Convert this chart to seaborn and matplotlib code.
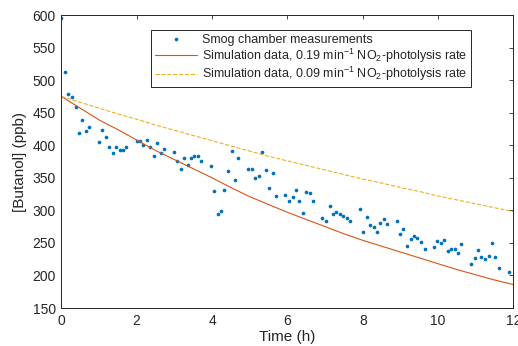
import pandas as pd
import matplotlib
matplotlib.use("Agg")
import matplotlib.pyplot as plt
import seaborn as sns

meas_time = [0.00, 0.10, 0.18, 0.28, 0.38, 0.46, 0.56, 0.65, 0.73,
             0.99, 1.09, 1.18, 1.27, 1.36, 1.45, 1.55, 1.64, 1.72,
             2.00, 2.09, 2.18, 2.27, 2.36, 2.45, 2.55, 2.64, 2.72,
             2.99, 3.06, 3.17, 3.25, 3.35, 3.44, 3.53, 3.62, 3.71,
             3.97, 4.06, 4.16, 4.24, 4.33, 4.43, 4.52, 4.62, 4.70,
             4.96, 5.06, 5.15, 5.24, 5.32, 5.42, 5.52, 5.61, 5.69,
             5.94, 6.04, 6.14, 6.23, 6.31, 6.41, 6.50, 6.59, 6.68,
             6.93, 7.03, 7.12, 7.21, 7.30, 7.39, 7.48, 7.58, 7.67,
             7.92, 8.01, 8.10, 8.20, 8.29, 8.37, 8.47, 8.56, 8.65,
             8.90, 8.99, 9.08, 9.18, 9.27, 9.36, 9.45, 9.54, 9.64,
             9.89, 9.98, 10.07, 10.16, 10.26, 10.35, 10.44, 10.53, 10.62,
             10.88, 10.97, 11.06, 11.15, 11.25, 11.34, 11.42, 11.52, 11.61,
             11.87]
meas_ppb = [596, 513, 478, 474, 458, 419, 438, 422, 428,
            405, 423, 413, 397, 388, 398, 392, 392, 398,
            407, 407, 401, 408, 398, 384, 403, 388, 394,
            390, 376, 364, 381, 370, 380, 383, 383, 376,
            368, 330, 294, 299, 332, 360, 391, 347, 380,
            363, 363, 350, 353, 389, 362, 334, 358, 322,
            323, 314, 320, 332, 314, 296, 328, 326, 314,
            289, 284, 307, 294, 298, 295, 291, 289, 284,
            302, 266, 290, 278, 275, 267, 280, 286, 279,
            284, 263, 271, 245, 256, 260, 258, 252, 241,
            243, 253, 250, 254, 238, 240, 240, 234, 248,
            218, 227, 239, 228, 225, 230, 250, 228, 211,
            206]

# Simulation curves (read every half hour)
sim_time = [0, 0.5, 1, 1.5, 2, 2.5, 3, 3.5, 4, 4.5, 5, 5.5, 6,
            6.5, 7, 7.5, 8, 8.5, 9, 9.5, 10, 10.5, 11, 11.5, 12]
sim_fast = [475, 457, 439, 424, 408, 392, 378, 364, 350, 335, 321, 309, 297,
            286, 275, 264, 254, 245, 236, 227, 218, 209, 201, 193, 186]
sim_slow = [475, 466, 457, 448, 440, 431, 423, 415, 407, 399, 391, 383, 376,
            369, 362, 355, 348, 342, 335, 329, 322, 316, 310, 304, 298]

meas = pd.DataFrame({"time": meas_time, "ppb": meas_ppb})
sim = pd.DataFrame({"time": sim_time, "fast": sim_fast, "slow": sim_slow})

sns.set_theme(style="white")
plt.rcParams["font.family"] = ["Liberation Sans", "DejaVu Sans"]
plt.rcParams["mathtext.fontset"] = "custom"
plt.rcParams["mathtext.rm"] = "Liberation Sans"
plt.rcParams["mathtext.it"] = "Liberation Sans"
grey = "#262626"

fig = plt.figure(figsize=(5.18, 3.46), dpi=100)
ax = fig.add_axes([0.1183, 0.1098, 0.873, 0.8468])

sns.scatterplot(data=meas, x="time", y="ppb", ax=ax, color="#0072BD", s=7,
                linewidth=0, label="Smog chamber measurements")
sns.lineplot(data=sim, x="time", y="fast", ax=ax, color="#D95319", linewidth=0.8,
             label="Simulation data, 0.19 min$^{-1}$ NO$_2$-photolysis rate")
sns.lineplot(data=sim, x="time", y="slow", ax=ax, color="#EDB120", linewidth=0.8,
             dashes=(6, 4), linestyle="--",
             label="Simulation data, 0.09 min$^{-1}$ NO$_2$-photolysis rate")

ax.set_xlim(0, 12)
ax.set_ylim(150, 600)
ax.set_xticks(range(0, 13, 2))
ax.set_yticks(range(150, 601, 50))
ax.tick_params(direction="in", top=True, right=True, length=3, width=0.6,
               colors=grey, labelsize=10, pad=4)
for sp in ax.spines.values():
    sp.set_color(grey)
    sp.set_linewidth(0.7)
ax.set_xlabel("Time (h)", fontsize=11, color=grey, labelpad=2)
ax.set_ylabel("[Butanol] (ppb)", fontsize=11, color=grey, labelpad=4)

leg = ax.legend(loc="upper left", bbox_to_anchor=(0.198, 0.949), borderaxespad=0,
                fontsize=9, handlelength=3.4, handletextpad=0.4,
                labelspacing=0.05, borderpad=0.3, fancybox=False, framealpha=1)
leg.get_frame().set_edgecolor(grey)
leg.get_frame().set_linewidth(0.7)
for t in leg.get_texts():
    t.set_color(grey)

fig.savefig("out.png", dpi=100)
